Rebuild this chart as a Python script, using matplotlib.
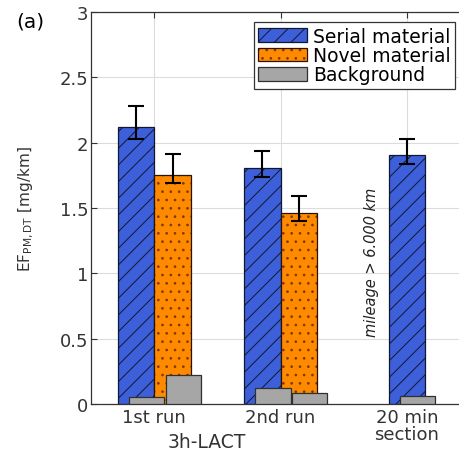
import numpy as np
import matplotlib
matplotlib.use("Agg")
import matplotlib.pyplot as plt
from matplotlib.legend_handler import HandlerTuple

plt.rcParams['font.family'] = ['DejaVu Sans']
plt.rcParams['mathtext.fontset'] = 'dejavusans'
plt.rcParams['hatch.linewidth'] = 0.7

# Data
groups = ['1st run', '2nd run', '20 min\nsection']
serial = [2.12, 1.81, 1.905]
serial_lo = [2.03, 1.735, 1.84]
serial_hi = [2.28, 1.94, 2.03]
novel = [1.755, 1.46]
novel_lo = [1.69, 1.40]
novel_hi = [1.91, 1.59]
bg_serial = [0.05, 0.12, 0.065]
bg_novel = [0.22, 0.085]
yticks = [0, 0.5, 1, 1.5, 2, 2.5, 3]

blue = '#3d5fd9'
orange = '#ff8a00'
grey = '#a6a6a6'
txt = '#333333'

fig = plt.figure(figsize=(4.6, 4.52), dpi=100)
ax = fig.add_axes([0.198, 0.104, 0.824, 0.867])

x = np.arange(1, len(groups) + 1)
w = 0.29
off = 0.145
bg_shift = 0.085

# serial bars: grouped for the first two, centred for the third
xs = np.array([x[0] - off, x[1] - off, x[2]])
xn = np.array([x[0] + off, x[1] + off])

b_serial = ax.bar(xs, serial, w, color=blue, edgecolor='#101830', linewidth=0.9,
                  hatch='//', zorder=2)
# stippled fill (hatch takes edge colour), then a dark outline on top
b_novel = ax.bar(xn, novel, w, color=orange, edgecolor='#7a3c00', linewidth=0,
                 hatch='..', zorder=2)
b_novel_edge = ax.bar(xn, novel, w, fill=False, edgecolor='#2a1400', linewidth=0.9,
                      zorder=2)

ax.errorbar(xs, serial, yerr=[np.array(serial) - serial_lo, np.array(serial_hi) - serial],
            fmt='none', ecolor='black', elinewidth=1.5, capsize=6, capthick=1.5, zorder=4)
ax.errorbar(xn, novel, yerr=[np.array(novel) - novel_lo, np.array(novel_hi) - novel],
            fmt='none', ecolor='black', elinewidth=1.5, capsize=6, capthick=1.5, zorder=4)

b_bg = ax.bar(xs + bg_shift, bg_serial, 0.28, color=grey, edgecolor='#303030',
              linewidth=0.9, zorder=3)
ax.bar(xn + bg_shift, bg_novel, 0.28, color=grey, edgecolor='#303030',
       linewidth=0.9, zorder=3)

ax.set_xlim(0.5, 3.5)
ax.set_ylim(0, 3)
ax.set_xticks(x)
ax.set_xticklabels(groups, fontsize=13, linespacing=0.95, color=txt)
ax.set_yticks(yticks)
ax.set_yticklabels(['0', '0.5', '1', '1.5', '2', '2.5', '3'], fontsize=13, color=txt)
ax.tick_params(direction='in', top=True, right=True, length=4, width=0.8, color=txt)
ax.tick_params(axis='y', pad=2)
ax.tick_params(axis='x', pad=3)
ax.grid(True, color='#dcdcdc', linewidth=0.8, zorder=0)
ax.set_axisbelow(True)
for s in ax.spines.values():
    s.set_color(txt)
    s.set_linewidth(0.9)

ax.set_ylabel(r'EF$_{\mathrm{PM,DT}}$ [mg/km]', fontsize=11, color=txt)
ax.yaxis.set_label_coords(-0.145, 0.5)

ax.text(2.72, 1.09, 'mileage > 6.000 km', rotation=90, style='italic',
        fontsize=10.5, ha='center', va='center', color='#222222')

fig.text(207 / 460, 1 - 443 / 452, '3h-LACT', ha='center', va='center',
         fontsize=13.5, color=txt)
fig.text(30 / 460, 1 - 22 / 452, '(a)', ha='center', va='center', fontsize=14.5)

leg = ax.legend([b_serial, (b_novel, b_novel_edge), b_bg],
                ['Serial material', 'Novel material', 'Background'],
                handler_map={tuple: HandlerTuple(ndivide=1, pad=0)},
                loc='upper right', bbox_to_anchor=(455 / 460, 1 - 23 / 452),
                bbox_transform=fig.transFigure, borderaxespad=0, fontsize=13.5,
                fancybox=False, framealpha=1, edgecolor=txt,
                handlelength=2.6, handleheight=0.75, labelspacing=0.02,
                handletextpad=0.3, borderpad=0.25)
leg.get_frame().set_linewidth(0.9)

fig.savefig('out.png', dpi=100)
